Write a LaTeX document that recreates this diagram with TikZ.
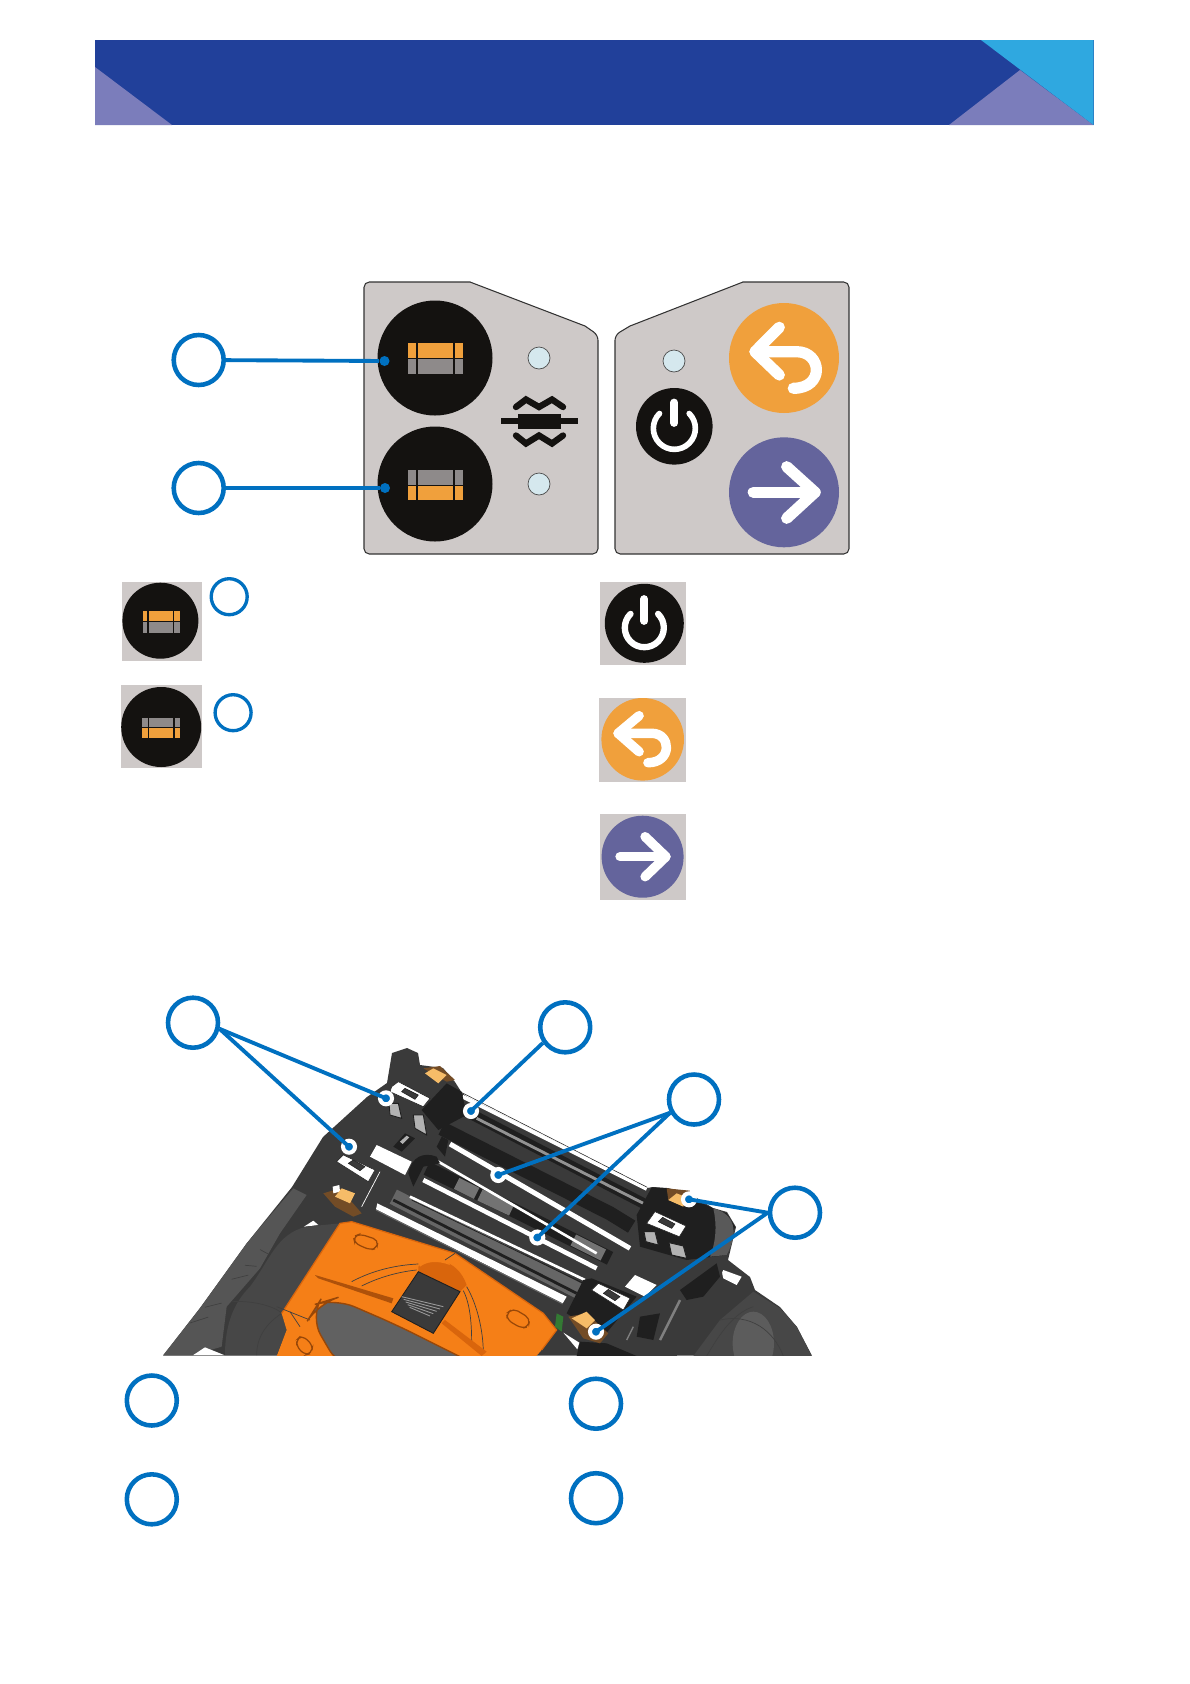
\documentclass[tikz,border=0pt]{standalone}
\usepackage{xcolor}
\definecolor{mBlue}{HTML}{21409A}
\definecolor{mCyan}{HTML}{2FA8E0}
\definecolor{mLilac}{HTML}{7B7DBB}
\definecolor{mCall}{HTML}{0070C0}
\definecolor{mPlate}{HTML}{CEC9C8}
\definecolor{mInk}{HTML}{141210}
\definecolor{mBar}{HTML}{F0A03C}
\definecolor{mGrey}{HTML}{8E8A8A}
\definecolor{mPurple}{HTML}{64649C}
\definecolor{mLed}{HTML}{D5E8EE}
\definecolor{mLid}{HTML}{F57F17}
\definecolor{mLidDark}{HTML}{D9650C}
\definecolor{mTab}{HTML}{F6BC68}
\definecolor{mBody}{HTML}{3A3A3A}
\definecolor{mBodyLight}{HTML}{555555}
\definecolor{mDeep}{HTML}{1F1F1F}
\usetikzlibrary{
  positioning,
  calc
}
\tikzset{
  callout/.style={
    draw=mCall,
    circle,
    line width=2.6pt,
    minimum size=1cm,
    inner sep=0pt
  },
  calloutsmall/.style={
    draw=mCall,
    circle,
    line width=1.9pt,
    minimum size=0.72cm,
    inner sep=0pt
  },
  calldot/.style={
    circle,
    fill=mCall,
    minimum size=0.2cm,
    inner sep=0pt
  },
  calldothalo/.style={
    circle,
    fill=mCall,
    draw=white,
    line width=2.3pt,
    minimum size=0.24cm,
    inner sep=0pt
  },
  callline/.style={draw=mCall, line width=2.2pt},
  panelplate/.style={
    draw=black!80,
    fill=mPlate,
    line width=0.6pt
  },
  panelled/.style={
    draw=black!70,
    fill=mLed,
    line width=0.4pt
  },
  iconsquare/.style={fill=mPlate},
  glyph/.style={
    draw=white,
    line cap=round,
    line join=round,
    line width=#1
  },
  zigzag/.style={
    draw=mInk,
    line width=3.6pt,
    line join=miter,
    line cap=round
  },
  rail/.style={draw=white, line width=#1},
  hook/.style={fill=gray!60, draw=mDeep, line width=0.5pt},
  slot/.style={fill=mBody, draw=mDeep, line width=0.3pt},
  tab/.style={fill=mTab},
  bump/.style={fill=mLid, draw=mLidDark!70!black, line width=0.7pt, rounded corners=3pt},
  inkline/.style={draw=black!75, line width=0.4pt},
  cropa/.style={shift={(290,1040)},x=0.006667cm,y=-0.006667cm},
  cropb/.style={shift={(520,1100)},x=0.006667cm,y=-0.006667cm},
  cropc/.style={shift={(150,1180)},x=0.006667cm,y=-0.006667cm}
}

\begin{document}
\begin{tikzpicture}[x=0.02cm,y=-0.02cm]
  \useasboundingbox (0,0) rectangle (1190,1684);

  % Titelband
  \fill[mBlue] (95,40) rectangle (1093.5,125);
  \fill[mLilac] (95,67) -- (172,125) -- (95,125) -- cycle;
  \fill[mLilac] (1020,70) -- (1093.5,125) -- (949,125) -- cycle;
  \fill[mCyan] (981,40) -- (1093.5,40) -- (1093.5,125) -- cycle;

  % Bedienfeld
  \draw[panelplate] (364,400) [rounded corners=3pt] -- (364,282) -- (465,282) [sharp corners] -- (470,282) -- (585,326)
    [rounded corners=3pt] -- (598,335) -- (598,554) -- (364,554) -- cycle;
  \draw[panelplate] (849,400) [rounded corners=3pt] -- (849,282) -- (748,282) [sharp corners] -- (743,282) -- (630,326)
    [rounded corners=3pt] -- (615,335) -- (615,554) -- (849,554) -- cycle;

  \fill[mInk] (435,358) circle (57.5);
  \fill[mInk] (435,484) circle (57.5);
  \fill[mBar] (407.5,343) rectangle (463,358);
  \fill[mGrey] (407.5,359) rectangle (463,374);
  \fill[mGrey] (407.5,470) rectangle (463,485);
  \fill[mBar] (407.5,486) rectangle (463,500);
  \foreach \x in {417,454} {
    \fill[mInk] (\x-1,343) rectangle (\x+1,374);
    \fill[mInk] (\x-1,470) rectangle (\x+1,500);
  }

  \foreach \x/\y in {539/358,539/484,674/361}
    \draw[panelled] (\x,\y) circle (11);

  % Symbol Spleiss
  \fill[mInk] (501,418) rectangle (578,424);
  \fill[mInk] (518,414) rectangle (561,429);
  \draw[zigzag] (516,407) -- (526,399.5) -- (539,407) -- (552,399.5) -- (563,407);
  \draw[zigzag] (516,435.5) -- (526,443.5) -- (539,435.5) -- (552,443.5) -- (563,435.5);

  % Taste Ein/Aus
  \fill[mInk] (674.3,426.3) circle (38.3);
  \draw[glyph=3.2pt] (689.2,413.5) arc[start angle=-45,end angle=225,radius=21];
  \draw[glyph=4.4pt] (674.3,402.5) -- (674.3,423);

  % Taste Zurueck
  \fill[mBar] (784,358) circle (55);
  \draw[glyph=6.4pt] (779.3,327.3) -- (755,351.7) -- (779.3,375);
  \draw[glyph=6.4pt] (755,351.7) -- (796.7,351.7) .. controls (822,351.7) and (825,388.3) .. (793.3,388.3);

  % Taste Weiter
  \fill[mPurple] (784,492.3) circle (55);
  \draw[glyph=6.4pt] (753.3,492.3) -- (815,492.3);
  \draw[glyph=6.4pt] (786.7,466.7) -- (815,492.3) -- (786.7,518.3);

  \node[calldot] (d1) at (384.5,361) {};
  \node[calldot] (d2) at (385,488) {};
  \node[callout] (c1) at (198.7,360) {};
  \node[callout] (c2) at (198.7,488) {};
  \draw[callline] (c1) -- (d1);
  \draw[callline] (c2) -- (d2);

  % Legende links
  \fill[iconsquare] (122,582) rectangle (201.5,660.5);
  \fill[mInk] (160.4,620.7) circle (38);
  \fill[mBar] (142.5,611) rectangle (179.5,621);
  \fill[mGrey] (142.5,622) rectangle (179.5,632.5);
  \fill[iconsquare] (120.7,684.7) rectangle (202,768.3);
  \fill[mInk] (161.2,727) circle (40);
  \fill[mGrey] (141.7,717.7) rectangle (180.3,727.4);
  \fill[mBar] (141.7,728.4) rectangle (180.3,738);
  \foreach \x/\ya/\yb in {148/611/632.5,173.5/611/632.5,148.5/717.7/738,174/717.7/738}
    \fill[mInk] (\x-0.8,\ya) rectangle (\x+0.8,\yb);
  \node[calloutsmall] (k1) at (229.2,596.7) {};
  \node[calloutsmall] (k2) at (233.1,712.7) {};

  % Legende rechts
  \begin{scope}[xshift=-0.052cm]
    \fill[iconsquare] (602.8,582) rectangle (688.2,664.7);
    \fill[mInk] (646.9,623.3) circle (39.5);
    \draw[glyph=3.6pt] (660.7,613.9) arc[start angle=-45,end angle=225,radius=19.5];
    \draw[glyph=4.4pt] (646.9,599) -- (646.9,621);
    \fill[iconsquare] (602,698) rectangle (688.2,782.3);
    \fill[mBar] (645.3,739.3) circle (41.3);
    \draw[glyph=5.4pt] (641.7,715.7) -- (620.7,733.3) -- (641.7,751.7);
    \draw[glyph=5.4pt] (620.7,733.3) -- (654.4,733.3) .. controls (674,733.3) and (675,762.7) .. (650.5,762.7);
    \fill[iconsquare] (602.8,814.3) rectangle (688.2,900);
    \fill[mPurple] (645.2,856.7) circle (41);
    \draw[glyph=5.4pt] (622.7,856.7) -- (668.5,856.7);
    \draw[glyph=5.4pt] (647.7,836.7) -- (668.5,856.7) -- (647.7,876.7);
  \end{scope}

  \begin{scope}
  \clip (0,0) rectangle (1190,1355.7);

  % Geraet, Grundkoerper
  \fill[mBody] (163,1355.7) -- (200,1308) -- (247,1243) -- (292,1187) -- (323,1137) -- (367,1097) -- (387,1083)
    -- (392,1053) -- (407,1048) -- (418,1053) -- (420,1065) -- (443,1068) -- (455,1082) -- (462,1093)
    -- (467,1097) -- (647,1188) -- (653,1187) -- (667,1188) -- (687,1192) -- (713,1208) -- (727,1212)
    -- (736,1227) -- (728,1260) -- (750,1277) -- (755,1290) -- (780,1307) -- (797,1327) -- (812,1355.7) -- cycle;

  % Arm und Seitenteil links
  \begin{scope}[cropc]
    \fill[mBodyLight] (40,525) -- (150,385) -- (290,190) -- (430,25) -- (470,45) -- (390,160)
      -- (330,265) -- (230,380) -- (215,500) -- (130,525) -- cycle;
    \foreach \a/\b in {120/175,165/215,245/295,285/320,330/355}
      \draw[inkline] ({\a},{525-\a*1.05+30}) -- ({\b},{525-\b*1.05+70});
    \fill[white] (130,525) -- (165,502) -- (222,525) -- cycle;
    \fill[white] (462,140) -- (490,122) -- (505,135) -- cycle;
    \fill[black!72] (225,525) .. controls (225,420) and (260,360) .. (300,320)
      .. controls (360,240) and (380,160) .. (470,140) -- (570,130) -- (395,400) -- (410,450) -- (380,525) -- cycle;
    \draw[inkline] (245,365) .. controls (330,360) and (390,390) .. (395,400);
    \draw[inkline] (320,525) .. controls (320,470) and (350,430) .. (395,400);
    \fill[mBody] (480,80) -- (505,80) -- (640,125) -- (570,130) -- (480,120) -- cycle;
  \end{scope}

  % Rechte Seite
  \begin{scope}[cropb]
    \fill[black!72] (520,768) -- (600,660) -- (700,575) -- (780,625) -- (830,680) -- (875,768) -- cycle;
    \fill[black!64] (700,730) ellipse (62 and 95);
    \draw[inkline] (600,660) .. controls (690,640) and (760,690) .. (790,768);
    \draw[inkline] (560,768) .. controls (600,700) and (640,640) .. (700,620);
    \fill[white] (610,510) -- (665,530) -- (650,555) -- (600,530) -- cycle;
    \fill[mBody] (420,600) -- (480,560) -- (600,480) -- (610,540) -- (560,610) -- (470,768) -- (260,768) -- (330,650) -- cycle;
    \fill[mDeep] (480,570) -- (590,490) -- (600,530) -- (550,590) -- (500,600) -- cycle;
    \fill[mDeep] (360,650) -- (420,640) -- (400,720) -- (350,710) -- cycle;
    \draw[gray, line width=1.4pt] (480,600) -- (420,720);
    \draw[gray, line width=0.8pt] (340,680) -- (320,720);
    \fill[mDeep] (180,725) -- (260,730) -- (350,768) -- (170,768) -- cycle;
  \end{scope}

  % Walzen und Schienen
  \begin{scope}[cropa]
    \draw[mDeep, line width=8pt] (455,265) -- (960,520) -- (1025,560);
    \draw[mDeep, line width=6pt] (520,210) -- (1060,490);
    \draw[gray!85, line width=1.6pt] (560,235) -- (1060,490);
    \draw[mDeep, line width=8pt] (410,385) -- (690,520) -- (960,655);
    \draw[black!55, line width=7pt] (500,430) -- (560,460);
    \draw[black!55, line width=7pt] (570,465) -- (665,510);
    \draw[black!55, line width=7pt] (850,600) -- (940,645);
    \draw[black!60, line width=9pt] (310,470) -- (880,760);
    \draw[mDeep, line width=1.6pt] (310,480) -- (860,760);
    \fill[white] (520,165) -- (1072,442) -- (1068,452) -- (515,175) -- cycle;
    \draw[mDeep, line width=0.3pt] (510,155) -- (1072,442);
    \draw[rail=2.8pt] (480,312) -- (1020,625);
    \draw[rail=1.5pt] (440,362) -- (920,640);
    \draw[rail=2.6pt] (400,420) -- (920,685);
    \draw[rail=1.5pt] (360,470) -- (885,720);
    \draw[mDeep, line width=0.4pt] (365,480) -- (880,730);
    \fill[white] (262,490) -- (830,770) -- (818,790) -- (258,508) -- cycle;
    \draw[black!60, line width=0.6pt] (258,510) -- (818,792);

    % Rollenhalter
    \fill[mDeep] (355,400) .. controls (365,350) and (400,335) .. (440,350) -- (450,370) -- (400,380) -- (370,440) -- cycle;
    \fill[mDeep] (440,320) -- (455,290) -- (475,300) -- (465,350) -- cycle;

    % Klemme oben links
    \fill[mDeep] (395,210) -- (470,130) -- (515,155) -- (530,225) -- (445,270) -- cycle;
    \fill[white, draw=mDeep, line width=0.3pt] (305,140) -- (325,125) -- (420,175) -- (400,200) -- (300,155) -- cycle;
    \fill[slot] (335,155) -- (345,145) -- (385,165) -- (375,178) -- cycle;
    \fill[hook] (297,190) -- (325,190) -- (335,235) -- (300,225) -- cycle;
    \fill[hook] (370,225) -- (400,225) -- (410,285) -- (375,265) -- cycle;
    \fill[brown!60!black] (400,85) -- (450,78) -- (495,120) -- (470,125) -- cycle;
    \fill[tab] (405,100) -- (430,85) -- (470,105) -- (445,130) -- cycle;

    % Klemme Mitte links
    \fill[white, draw=mDeep, line width=0.3pt] (140,365) -- (160,345) -- (255,390) -- (235,425) -- cycle;
    \fill[slot] (175,370) -- (190,360) -- (225,380) -- (210,392) -- cycle;
    \fill[white] (240,350) -- (260,315) -- (365,365) -- (345,405) -- cycle;
    \fill[mDeep] (310,320) -- (345,280) -- (375,295) -- (335,335) -- cycle;
    \fill[gray!60] (330,305) -- (350,287) -- (358,292) -- (338,312) -- cycle;
    \fill[brown!60!black] (100,460) -- (150,445) -- (215,520) -- (190,530) -- (135,500) -- cycle;
    \fill[white] (128,440) -- (148,435) -- (150,455) -- (130,460) -- cycle;
    \fill[tab] (135,470) -- (155,445) -- (195,460) -- (180,490) -- cycle;
    \draw[white, line width=0.4pt] (215,500) -- (270,395);
  \end{scope}

  % Klemmen rechts
  \begin{scope}[cropb]
    \fill[mDeep] (350,345) -- (395,262) -- (445,265) -- (580,325) -- (620,340) -- (645,380) -- (620,465) -- (500,480) -- (360,440) -- cycle;
    \fill[black!65] (580,325) .. controls (640,340) and (660,390) .. (620,465) -- (570,470) .. controls (590,420) and (590,370) .. (580,325) -- cycle;
    \fill[white, draw=mDeep, line width=0.3pt] (380,370) -- (405,335) -- (498,378) -- (478,410) -- cycle;
    \fill[slot] (415,365) -- (428,352) -- (465,372) -- (455,385) -- cycle;
    \fill[hook] (372,395) -- (405,395) -- (415,435) -- (378,425) -- cycle;
    \fill[hook] (447,428) -- (490,438) -- (500,475) -- (455,465) -- cycle;
    \fill[brown!60!black] (440,265) -- (510,272) -- (495,320) -- (445,300) -- cycle;
    \fill[tab] (445,300) -- (470,280) -- (495,290) -- (490,320) -- cycle;
    \fill[mDeep] (190,540) -- (215,535) -- (350,590) -- (250,710) -- (140,640) -- cycle;
    \fill[white, draw=mDeep, line width=0.3pt] (215,570) -- (235,550) -- (330,595) -- (310,630) -- cycle;
    \fill[slot] (250,580) -- (265,568) -- (300,590) -- (285,602) -- cycle;
    \fill[white] (315,560) -- (345,525) -- (410,555) -- (375,590) -- cycle;
    \fill[brown!60!black] (145,650) -- (200,640) -- (265,700) -- (240,730) -- (190,715) -- cycle;
    \fill[tab] (155,655) -- (200,635) -- (225,660) -- (200,685) -- cycle;
    \fill[white] (130,698) -- (178,728) -- (172,748) -- cycle;
    \fill[green!35!black!80] (110,640) -- (130,650) -- (125,695) -- (105,680) -- cycle;
  \end{scope}

  % Deckel
  \begin{scope}[cropa]
    \fill[mLid] (150,550) -- (185,545) -- (495,640) -- (760,820) -- (800,870) -- (755,930) -- (715,975)
      -- (-50,975) -- (-10,870) -- (-25,820) -- cycle;
    \draw[mLidDark, line width=0.7pt] (-25,820) -- (150,550) -- (185,545) -- (495,640) -- (760,820) -- (800,870) -- (755,930);
    \fill[mLidDark] (385,680) .. controls (420,650) and (500,650) .. (530,735) -- (510,755) -- (385,695) -- cycle;
    \fill[mLid] (390,672) .. controls (420,650) and (470,655) .. (480,675) .. controls (440,660) and (410,665) .. (390,680) -- cycle;
    \fill[mLidDark!80!black] (75,705) -- (310,775) -- (305,790) -- (85,715) -- cycle;
    \draw[inkline] (185,725) .. controls (250,690) and (320,675) .. (385,672);
    \draw[inkline] (215,738) .. controls (270,710) and (330,695) .. (380,690);
    \draw[inkline] (520,752) .. controls (540,790) and (545,850) .. (545,905);
    \draw[inkline] (530,740) .. controls (560,790) and (580,870) .. (580,940);
    \draw[inkline] (495,640) -- (465,660);
    \draw[inkline] (-40,800) -- (60,840);
    \draw[inkline] (0,815) -- (30,860);
    \fill[black!62, draw=mLidDark!70!black, line width=0.8pt, rounded corners=12pt]
      (60,830) -- (85,790) -- (135,775) -- (320,855) -- (580,985) -- (150,985) -- cycle;
    \fill[mLidDark] (455,850) -- (465,840) -- (590,935) -- (575,948) -- cycle;
    \fill[mBody, draw=mDeep, line width=0.5pt] (385,695) -- (510,755) -- (430,880) -- (305,815) -- cycle;
    \foreach \n in {0,1,2,3,4}
      \draw[gray!80, line width=0.5pt] ($(335,770)+(\n*6,\n*8)$) -- ($(460,800)+(-\n*10,\n*7)$);
    \path[bump] (190,590) -- (210,582) -- (265,600) -- (260,625) -- (240,630) -- (195,610) -- cycle;
    \path[bump] (650,820) -- (670,805) -- (720,835) -- (715,860) -- (695,865) -- (652,840) -- cycle;
    \path[bump] (20,900) -- (35,885) -- (68,915) -- (65,940) -- (45,945) -- (20,920) -- cycle;
  \end{scope}
  \end{scope}

  % Hinweise am Geraet
  \node[callout] (c3) at (193,1022.7) {};
  \node[callout] (c4) at (565.2,1027.3) {};
  \node[callout] (c5) at (694,1099.5) {};
  \node[callout] (c6) at (795,1212.7) {};
  \node[calldothalo] (d3) at (386,1098.3) {};
  \node[calldothalo] (d4) at (349,1146.7) {};
  \node[calldothalo] (d5) at (471,1111) {};
  \node[calldothalo] (d6) at (498.3,1175) {};
  \node[calldothalo] (d7) at (537.3,1237.5) {};
  \node[calldothalo] (d8) at (689,1199.3) {};
  \node[calldothalo] (d9) at (596,1331.7) {};
  \foreach \a/\b in {c3.-13/d3,c3.-13/d4,c4.215/d5,c5.209/d6,c5.209/d7,c6.180/d8,c6.180/d9}
    \draw[callline] (\a) -- (\b.center);

  % Legende unten
  \node[callout] (n1) at (151.8,1400.5) {};
  \node[callout] (n2) at (151.8,1499.3) {};
  \node[callout] (n3) at (596,1403.7) {};
  \node[callout] (n4) at (596,1498.2) {};
\end{tikzpicture}
\end{document}
